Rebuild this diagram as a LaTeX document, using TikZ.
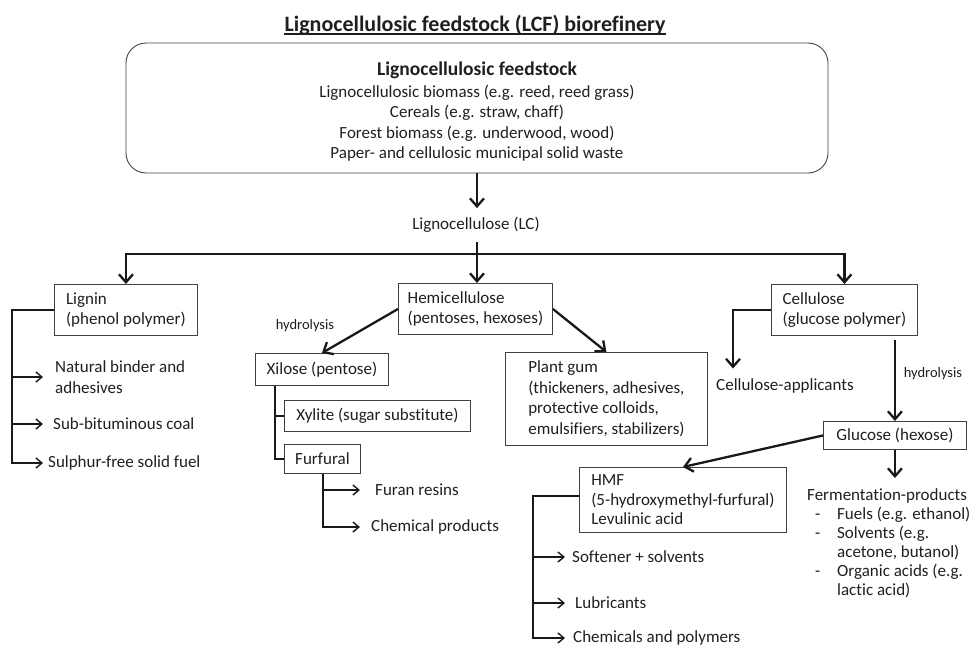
\documentclass[tikz,border=0pt]{standalone}
\usepackage{fontspec}
\setmainfont{Carlito}[Ligatures={NoCommon}]
\usetikzlibrary{arrows.meta,calc}
\begin{document}
\begin{tikzpicture}[x=1pt,y=-1pt,
  every node/.style={text=black!88, font=\fontsize{17}{20.5}\selectfont},
  bx/.style={draw=black!75, line width=0.9pt, align=left, inner sep=0pt, anchor=north west},
  leaf/.style={anchor=west, align=left, inner ysep=0pt},
  thickarr/.style={draw=black!90, line width=2.3pt, -{Straight Barb[length=8pt,width=14pt]}},
  thinarr/.style={draw=black!90, line width=1.4pt, -{Straight Barb[length=6pt,width=10pt]}},
  thinline/.style={draw=black!90, line width=1.4pt},
  thickline/.style={draw=black!90, line width=2.3pt},
  small/.style={font=\fontsize{14.5}{17}\selectfont}
]
\useasboundingbox (0,0) rectangle (975,646);

% title
\node[anchor=base, inner sep=0pt, font=\fontsize{22}{26}\selectfont\bfseries] (title) at (475,31) {Lignocellulosic feedstock (LCF) biorefinery};
\draw[black!88, line width=1.3pt] ([yshift=-3pt]title.base west) -- ([yshift=-3pt]title.base east);

% feedstock box
\node[draw=black!75, line width=0.9pt, rounded corners=20pt, minimum width=702pt, minimum height=130pt, align=center] (feed) at (477,108)
  {\rule{0pt}{21pt}{\fontsize{19.5}{22}\selectfont\bfseries Lignocellulosic feedstock}\\[1pt]
   Lignocellulosic biomass (e.g. reed, reed grass)\\
   Cereals (e.g. straw, chaff)\\
   Forest biomass (e.g. underwood, wood)\\
   Paper- and cellulosic municipal solid waste};

\node[inner ysep=9pt] (lc) at (476,225) {Lignocellulose (LC)};
\draw[thickarr] (feed.south) -- (feed.south |- lc.north);

% main boxes
\node[bx, minimum width=143pt, minimum height=51pt] (lignin) at (54,284) {Lignin\\(phenol polymer)};
\node[bx, minimum width=154pt, minimum height=51pt] (hemi) at (398,283) {Hemicellulose\\(pentoses, hexoses)};
\node[bx, minimum width=146pt, minimum height=51pt] (cell) at (771,284) {Cellulose\\(glucose polymer)};

\coordinate (bar) at (477,254);
\draw[thickline] (lc.south -| bar) -- (bar);
\draw[thickarr] (bar) -| (lignin.north);
\draw[thickarr] (bar) -| (cell.north);
\draw[thickarr] (bar) -- (bar |- hemi.north);

% lignin products
\node[leaf, inner xsep=12pt] (nb) at (43,377) {Natural binder and\\adhesives};
\node[leaf, inner xsep=10pt] (sbc) at (43,424) {Sub-bituminous coal};
\node[leaf, inner xsep=5pt] (sff) at (43,463) {Sulphur-free solid fuel};
\draw[thinarr] (lignin.west) -- ++(-42,0) |- (nb.west);
\draw[thinarr] (lignin.west) -- ++(-42,0) |- (sbc.west);
\draw[thinarr] (lignin.west) -- ++(-42,0) |- (sff.west);

% hemicellulose
\node[bx, minimum width=133pt, minimum height=32pt] (xilose) at (255,353) {Xilose (pentose)};
\node[bx, minimum width=202pt, minimum height=93pt] (gum) at (505,352) {Plant gum\\(thickeners, adhesives,\\protective colloids,\\emulsifiers, stabilizers)};
\draw[thickarr] (hemi.west) -- (xilose.north);
\draw[thickarr] (hemi.east) -- (gum.north);
\node[small] (hyd1) at (305,326) {hydrolysis};

\node[bx, minimum width=186pt, minimum height=31pt] (xylite) at (284,400) {Xylite (sugar substitute)};
\node[bx, minimum width=76pt, minimum height=29pt] (furf) at (284,444) {Furfural};
\coordinate (xb) at ($(xilose.south west)+(20,0)$);
\draw[thinline] (xb) |- (xylite.west);
\draw[thinline] (xb) |- (furf.west);

\node[leaf, inner xsep=15pt] (fr) at (360,490) {Furan resins};
\node[leaf, inner xsep=11pt] (cp) at (360,527) {Chemical products};
\coordinate (fb) at ($(furf.south west)+(39,0)$);
\draw[thinarr] (fb) |- (fr.west);
\draw[thinarr] (fb) |- (cp.west);

% cellulose
\node[inner ysep=10pt] (ca) at (785,386) {Cellulose-applicants};
\draw[thickarr] (cell.west) -| ([xshift=-52pt]ca.north);
\node[bx, minimum width=143pt, minimum height=28pt] (gluc) at (823,421) {Glucose (hexose)};
\draw[thickarr] ([yshift=-4pt]cell.south -| gluc.north) -- (gluc.north);
\node[small] (hyd2) at (933,374) {hydrolysis};

% glucose products
\node[bx, minimum width=207pt, minimum height=65pt, font=\fontsize{17}{19.5}\selectfont] (hmf) at (579,467) {HMF\\(5-hydroxymethyl-furfural)\\Levulinic acid};
\draw[thickarr] (gluc.west) -- (hmf.north);

\node[anchor=north west, inner xsep=0pt, inner ysep=10pt, align=left, font=\fontsize{17}{19}\selectfont] (fp) at (807,478)
  {Fermentation-products\\
   \makebox[30pt][l]{\hspace{8pt}-}Fuels (e.g. ethanol)\\
   \makebox[30pt][l]{\hspace{8pt}-}Solvents (e.g.\\
   \makebox[30pt][l]{}acetone, butanol)\\
   \makebox[30pt][l]{\hspace{8pt}-}Organic acids (e.g.\\
   \makebox[30pt][l]{}lactic acid)};
\draw[thickarr] (gluc.south) -- (gluc.south |- fp.north);

% HMF products
\node[leaf, inner xsep=7pt] (sp) at (565,557) {Softener + solvents};
\node[leaf, inner xsep=10pt] (lub) at (565,603) {Lubricants};
\node[leaf, inner xsep=8pt] (chp) at (565,638) {Chemicals and polymers};
\draw[thinarr] ([yshift=4pt]hmf.west) -- ++(-46,0) |- (sp.west);
\draw[thinarr] ([yshift=4pt]hmf.west) -- ++(-46,0) |- (lub.west);
\draw[thinarr] ([yshift=4pt]hmf.west) -- ++(-46,0) |- (chp.west);
\end{tikzpicture}
\end{document}
